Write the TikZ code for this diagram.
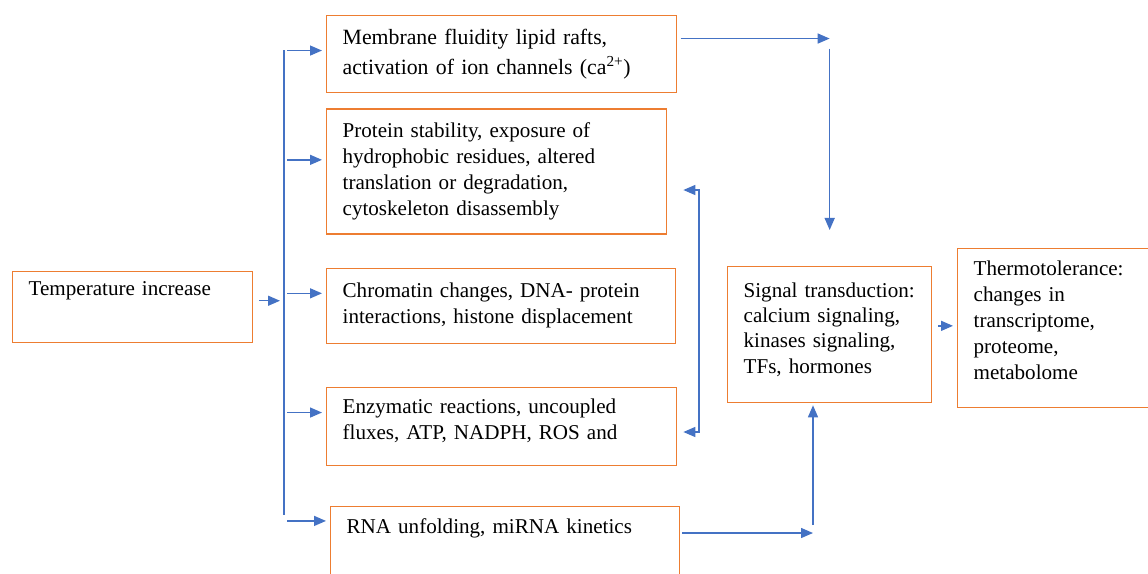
\documentclass[tikz,border=0pt]{standalone}
\usepackage{fontspec}
\setmainfont{Liberation Serif}
\usepackage{tikz}
\usetikzlibrary{arrows.meta,positioning}
\definecolor{boxorange}{HTML}{ED7D31}
\definecolor{arrowblue}{HTML}{4472C4}

\begin{document}
\begin{tikzpicture}[x=0.025cm, y=-0.025cm, >={Triangle[length=3mm, width=2.5mm]}]
% STYLES
\tikzset{%
    box/.style={%
    draw=boxorange,
    line width=0.9pt,
    rectangle,
    anchor=north west,
    inner xsep=0.4cm,
    inner ysep=0.1cm,
    align=left,
    font=\fontsize{15}{18.5}\selectfont}
    }
\tikzset{%
    flow/.style={%
    color=arrowblue,
    line width=1pt,
    ->}
    }
\useasboundingbox (0,0) rectangle (1148,573);
\clip (0,0) rectangle (1148,573);

% Draw boxes
\node [box, text width=5.2cm, text height=0.5cm, text depth=1.075cm] (Temp) at (12,271) {Temperature increase};
\node [box, text width=7.95cm, minimum height=1.925cm, font=\fontsize{15.5}{21}\selectfont] (Membrane) at (326,15)
    {Membrane fluidity lipid rafts,\\ activation of ion channels (ca\textsuperscript{2+})};
\node [box, text width=7.7cm, minimum height=3.125cm, below=0.375cm of Membrane.south west, anchor=north west] (Protein)
    {Protein stability, exposure of\\ hydrophobic residues, altered\\ translation or degradation,\\ cytoskeleton disassembly};
\node [box, text width=7.925cm, minimum height=1.875cm, below=0.825cm of Protein.south west, anchor=north west] (Chromatin)
    {Chromatin changes, DNA- protein\\ interactions, histone displacement};
\node [box, text width=7.95cm, minimum height=1.95cm, below=1.075cm of Chromatin.south west, anchor=north west] (Enzymatic)
    {Enzymatic reactions, uncoupled\\ fluxes, ATP, NADPH, ROS and\\[-0.3cm]\mbox{}};
\node [box, text width=7.925cm, text height=0.575cm, text depth=1.35cm, below=1cm of Enzymatic.south west, anchor=north west, xshift=0.1cm] (Rna)
    {RNA unfolding, miRNA kinetics};
\node [box, text width=4.3cm, minimum height=3.4cm, font=\fontsize{15}{17.8}\selectfont] (Signal) at (727,266)
    {Signal transduction:\\ calcium signaling,\\ kinases signaling,\\ TFs, hormones\\[-0.3cm]\mbox{}};
\node [box, text width=4.2cm, minimum height=3.975cm] (Thermo) at (957,248)
    {Thermotolerance:\\ changes in\\ transcriptome,\\ proteome,\\ metabolome\\[-0.25cm]\mbox{}};

% Draw the bus from temperature to the five effects
\coordinate (BusTop) at (284,50);
\coordinate (BusEnd) at (284,515);
\draw [draw=arrowblue, line width=0.9pt] (BusTop) -- (BusEnd);
\coordinate (TempOut) at ([yshift=0.16cm]Temp.east);
\draw [flow, shorten <=0.15cm, shorten >=0.1cm] (TempOut) -- (TempOut -| BusTop);

\coordinate (MemIn) at ([yshift=0.09cm]Membrane.west);
\coordinate (ProtIn) at ([yshift=0.29cm]Protein.west);
\coordinate (ChromIn) at ([yshift=0.31cm]Chromatin.west);
\coordinate (EnzIn) at ([yshift=0.35cm]Enzymatic.west);
\coordinate (RnaIn) at ([yshift=0.71cm]Rna.west);
\path
(BusTop |- MemIn) edge [flow, shorten <=0.08cm, shorten >=0.1cm] (MemIn)
(BusTop |- ProtIn) edge [flow, shorten <=0.08cm, shorten >=0.1cm] (ProtIn)
(BusTop |- ChromIn) edge [flow, shorten <=0.08cm, shorten >=0.1cm] (ChromIn)
(BusTop |- EnzIn) edge [flow, shorten <=0.08cm, shorten >=0.1cm] (EnzIn)
(BusTop |- RnaIn) edge [flow, shorten <=0.08cm, shorten >=0.1cm] (RnaIn);

% Draw the links to signal transduction
\coordinate (MemOut) at ([yshift=0.39cm]Membrane.east);
\coordinate (SigTurn) at (MemOut -| Signal.north);
\draw [flow, shorten <=0.08cm] (MemOut) -- (SigTurn);
\draw [flow, shorten <=0.25cm, shorten >=0.9cm] (SigTurn) -- (Signal.north);

\coordinate (FbTop) at (699,190);
\coordinate (FbEnd) at (699,432);
\draw [flow, <->, shorten <=0.4cm, shorten >=0.15cm] (Protein.east |- FbTop) -- (FbTop) -- (FbEnd) -- (Enzymatic.east |- FbEnd);

\coordinate (RnaTurn) at (813,533);
\draw [flow, shorten <=0.05cm] (Rna.east |- RnaTurn) -- (RnaTurn);
\draw [flow, shorten <=0.2cm, shorten >=0.05cm] (RnaTurn) -- (RnaTurn |- Signal.south);

\coordinate (SigOut) at ([yshift=0.22cm]Signal.east);
\draw [flow, shorten <=0.15cm, shorten >=0.1cm] (SigOut) -- (SigOut -| Thermo.west);

\end{tikzpicture}
\end{document}
